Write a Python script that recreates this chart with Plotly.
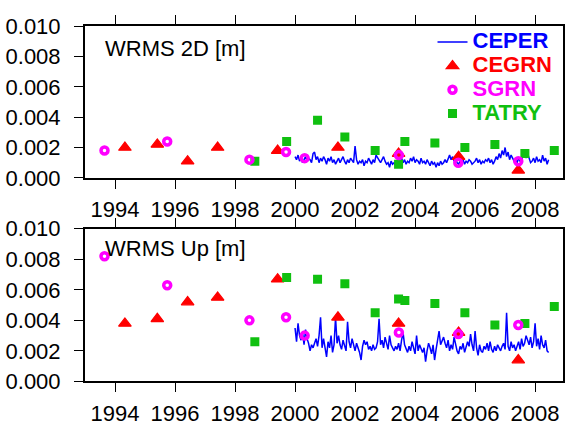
import plotly.graph_objects as go

# ---------------- data ----------------
# CEPER: regular solutions, start 2000.00, one value every 0.05 yr (values in mm)
ceper_start = 2000.0
ceper_step = 0.05
ceper_2d_mm = [
    1.4, 1.2, 1.5, 1.1, 1.3, 1.0, 1.2, 1.4, 1.1, 1.3, 1.2, 1.0, 1.6, 1.7, 1.2, 1.4, 1.0, 1.3, 1.1, 1.4,
    1.2, 0.9, 1.3, 1.1, 1.4, 1.0, 1.2, 0.9, 1.1, 1.3, 1.0, 1.2, 1.4, 1.1, 0.9, 1.2, 1.0, 1.3, 1.1, 1.0,
    2.1, 1.2, 0.9, 1.1, 1.0, 1.2, 0.8, 1.1, 1.0, 1.3, 1.1, 0.9, 1.2, 1.0, 1.5, 1.3, 1.1, 1.0, 1.2, 1.4,
    1.1, 0.9, 1.0, 0.7, 1.1, 0.9, 1.0, 0.8, 1.0, 0.9, 1.1, 1.3, 1.0, 1.2, 0.9, 1.1, 1.0, 1.3, 1.1, 1.4,
    1.0, 1.2, 1.1, 0.9, 1.3, 1.0, 1.1, 0.9, 1.2, 1.0, 0.8, 1.1, 0.9, 1.0, 0.7, 1.0, 0.8, 1.1, 0.9, 1.0,
    1.2, 1.0, 1.3, 1.5, 1.2, 1.4, 1.1, 1.3, 1.0, 0.9, 1.1, 1.0, 1.2, 0.9, 1.1, 1.0, 1.2, 1.1, 0.9, 1.0,
    1.1, 1.3, 1.0, 1.2, 0.9, 1.1, 1.0, 1.2, 1.1, 1.3, 1.0, 1.2, 0.9, 1.1, 1.4, 1.2, 1.6, 1.3, 1.8, 1.5,
    2.0, 1.4, 1.7, 1.2, 1.5, 1.3, 1.1, 1.2, 1.0, 1.3, 1.1, 1.2, 1.4, 1.8, 1.3, 1.6, 1.2, 1.0, 1.1, 1.3,
    1.0, 1.4, 1.1, 1.2, 1.0, 1.5, 1.1, 1.3, 0.9, 1.2,
]
ceper_up_mm = [
    3.5, 2.6, 3.8, 3.0, 2.7, 3.2, 2.4, 3.4, 2.8, 2.5, 2.0, 2.4, 2.2, 2.6, 2.8, 2.3, 3.0, 4.2, 2.2, 2.8,
    2.0, 1.6, 2.6, 2.2, 3.0, 1.9, 2.4, 4.2, 2.5, 3.0, 2.4, 2.1, 2.7, 2.3, 2.0, 3.9, 2.6, 2.2, 2.8, 2.4,
    2.0, 2.5, 2.2, 1.9, 1.4, 2.3, 2.7, 2.4, 2.6, 2.1, 2.3, 2.0, 2.4, 2.1, 2.2, 2.6, 4.1, 2.4, 2.7, 2.2,
    2.9, 2.5, 2.1, 3.0, 2.4, 2.2, 2.0, 2.3, 2.1, 2.5, 2.0, 2.7, 3.2, 2.4, 2.2, 1.9, 2.3, 2.0, 2.6, 2.1,
    1.8, 3.0, 2.0, 2.4, 2.1, 1.9, 2.2, 1.3, 2.0, 2.5, 2.2, 1.8, 2.4, 1.4, 2.1, 2.6, 3.3, 2.4, 2.6, 2.9,
    2.5, 2.2, 2.7, 2.0, 2.4, 2.1, 2.9, 2.3, 2.0, 1.8, 2.3, 2.1, 2.5, 1.9, 2.2, 2.6, 2.3, 3.1, 2.4, 2.0,
    3.3, 2.2, 1.7, 2.4, 2.0, 1.9, 2.3, 2.1, 2.5, 2.0, 2.6, 2.1, 1.9, 2.3, 2.0, 2.4, 2.2, 2.0, 2.3, 2.5,
    2.1, 4.5, 2.3, 2.0, 2.6, 2.2, 2.4, 2.0, 2.3, 2.6, 2.1, 2.8, 2.3, 2.5, 3.0, 2.7, 2.4, 2.9, 2.2, 2.6,
    3.8, 2.3, 2.8, 2.1, 3.0, 2.4, 2.2, 2.7, 2.0, 1.9,
]
ceper_t = [ceper_start + i * ceper_step for i in range(len(ceper_2d_mm))]

cegrn_t = [1994.33, 1995.41, 1996.42, 1997.42, 1999.42, 2001.43, 2003.45, 2005.45, 2007.44]
cegrn_2d = [0.0020, 0.0022, 0.0011, 0.0020, 0.0018, 0.0020, 0.0016, 0.0014, 0.0005]
cegrn_up = [0.0038, 0.0041, 0.0052, 0.0055, 0.0067, 0.0042, 0.0038, 0.0032, 0.0014]

sgrn_t = [1993.65, 1995.74, 1998.48, 1999.70, 2000.32, 2003.46, 2005.44, 2007.44]
sgrn_2d = [0.0018, 0.0024, 0.0012, 0.0017, 0.0013, 0.0015, 0.0010, 0.0011]
sgrn_up = [0.0082, 0.0063, 0.0040, 0.0042, 0.0030, 0.0032, 0.0031, 0.0037]

tatry_t = [1998.66, 1999.72, 2000.75, 2001.66, 2002.67, 2003.45, 2003.66, 2004.66,
           2005.66, 2006.66, 2007.66, 2008.64]
tatry_2d = [0.0011, 0.0024, 0.0038, 0.0027, 0.0018, 0.0009, 0.0024, 0.0023,
            0.0020, 0.0022, 0.0016, 0.0018]
tatry_up = [0.0026, 0.0068, 0.0067, 0.0064, 0.0045, 0.0054, 0.0053, 0.0051,
            0.0045, 0.0037, 0.0038, 0.0049]

x_ticks = [1994, 1996, 1998, 2000, 2002, 2004, 2006, 2008]
x_tick_labels = ["1994", "1996", "1998", "2000", "2002", "2004", "2006", "2008"]
y_ticks = [0.000, 0.002, 0.004, 0.006, 0.008, 0.010]
y_tick_labels = ["0.000", "0.002", "0.004", "0.006", "0.008", "0.010"]
panel_titles = ["WRMS 2D [m]", "WRMS Up [m]"]
series_names = ["CEPER", "CEGRN", "SGRN", "TATRY"]

# ---------------- style ----------------
FONT = "Liberation Sans, Arial, Helvetica, sans-serif"
BLUE, RED, MAGENTA, GREEN = "#0000FF", "#FF0000", "#FF00FF", "#10C010"
W, H = 566, 434


def legend_name(name, color):
    return f"<span style='color:{color};font-size:22px'><b>{name}</b></span>"


fig = go.Figure()
panels = [
    ("x", "y", ceper_2d_mm, cegrn_2d, sgrn_2d, tatry_2d, True),
    ("x2", "y2", ceper_up_mm, cegrn_up, sgrn_up, tatry_up, False),
]
for xa, ya, cep, ceg, sg, ta, show in panels:
    fig.add_trace(go.Scatter(
        x=ceper_t, y=[v * 1e-3 for v in cep], mode="lines",
        line=dict(color=BLUE, width=1.5),
        name=legend_name(series_names[0], BLUE), legendrank=1,
        showlegend=show, xaxis=xa, yaxis=ya))
    fig.add_trace(go.Scatter(
        x=cegrn_t, y=ceg, mode="markers",
        marker=dict(symbol="triangle-up", size=11, color=RED, line=dict(color=RED, width=1.2)),
        name=legend_name(series_names[1], RED), legendrank=2,
        showlegend=show, xaxis=xa, yaxis=ya))
    fig.add_trace(go.Scatter(
        x=tatry_t, y=ta, mode="markers",
        marker=dict(symbol="square", size=9, color=GREEN),
        name=legend_name(series_names[3], GREEN), legendrank=4,
        showlegend=show, xaxis=xa, yaxis=ya))
    fig.add_trace(go.Scatter(
        x=sgrn_t, y=sg, mode="markers",
        marker=dict(symbol="circle-open", size=7, color=MAGENTA,
                    line=dict(color=MAGENTA, width=3.5)),
        name=legend_name(series_names[2], MAGENTA), legendrank=3,
        showlegend=show, xaxis=xa, yaxis=ya))

common = dict(
    showline=True, linecolor="black", linewidth=2,
    ticks="outside", ticklen=9, tickwidth=1, tickcolor="black",
    showgrid=False, zeroline=False,
    tickfont=dict(family=FONT, size=22, color="black"),
)
xdom = [85 / W, 563 / W]
xax = dict(common, range=[1993.0, 2008.93], tickmode="array", tickvals=x_ticks,
           ticktext=x_tick_labels, mirror="ticks", domain=xdom, ticklabelstandoff=2)
yax = dict(common, range=[0, 0.010], tickmode="array", tickvals=y_ticks,
           ticktext=y_tick_labels, mirror=True, ticklabelstandoff=9)

fig.update_layout(
    width=W, height=H,
    margin=dict(l=0, r=0, t=0, b=0),
    paper_bgcolor="white", plot_bgcolor="white",
    font=dict(family=FONT, size=22, color="black"),
    showlegend=True,
    xaxis=dict(xax, anchor="y"),
    yaxis=dict(yax, anchor="x", domain=[1 - 176 / H, 1 - 15 / H]),
    xaxis2=dict(xax, anchor="y2"),
    yaxis2=dict(yax, anchor="x2", domain=[1 - 392 / H, 1 - 230 / H]),
    legend=dict(x=0.985, xanchor="right", y=1 - 14 / H, yanchor="top",
                bgcolor="rgba(0,0,0,0)", font=dict(family=FONT, size=16),
                itemwidth=30, tracegroupgap=0),
    annotations=[
        dict(text=panel_titles[0], x=103 / W, y=1 - 39 / H, xref="paper", yref="paper",
             xanchor="left", yanchor="middle", showarrow=False,
             font=dict(family=FONT, size=22, color="black")),
        dict(text=panel_titles[1], x=103 / W, y=1 - 251 / H, xref="paper", yref="paper",
             xanchor="left", yanchor="middle", showarrow=False,
             font=dict(family=FONT, size=22, color="black")),
    ],
)

fig.write_html("out.html", config={"displayModeBar": False},
               post_script="document.body.style.margin='0';")
